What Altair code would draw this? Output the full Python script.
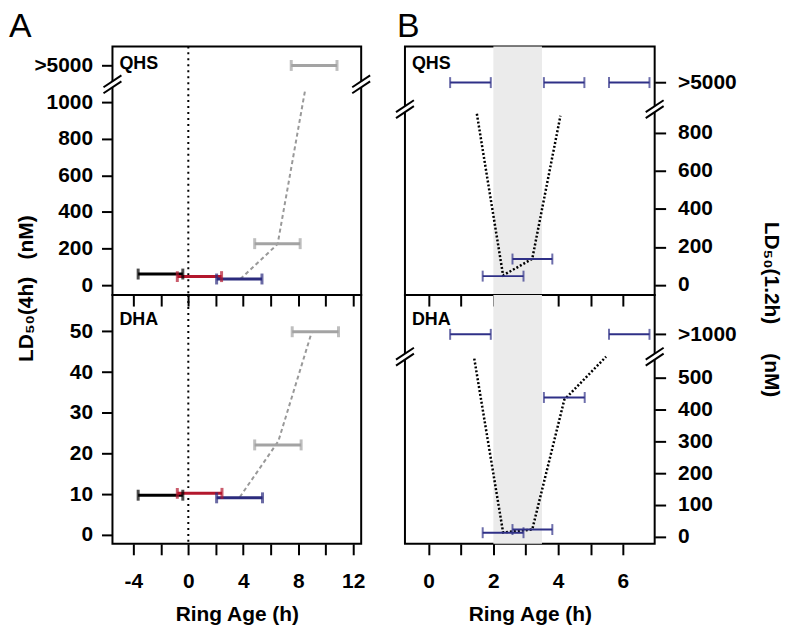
import altair as alt
import pandas as pd

FONT = "Liberation Sans"

# ---------------- data ----------------
# Panel A, QHS  (y in nM; 1200 is the position of the ">5000" row)
a_qhs_lo = [-3.65, -0.80, 2.06, 4.83, 7.49]
a_qhs_hi = [-0.40, 2.42, 5.36, 8.14, 10.82]
a_qhs_y = [61, 47, 34, 227, 1200]
a_qhs_grp = ["k", "r", "n", "g", "g"]
a_qhs_trend_x = [3.79, 6.50, 8.50]
a_qhs_trend_y = [34, 225, 1065]

# Panel A, DHA
a_dha_lo = [-3.65, -0.80, 2.06, 4.83, 7.56]
a_dha_hi = [-0.40, 2.45, 5.40, 8.21, 10.93]
a_dha_y = [9.75, 10.2, 9.1, 22.1, 49.9]
a_dha_grp = ["k", "r", "n", "g", "g"]
a_dha_trend_x = [3.75, 6.55, 9.00]
a_dha_trend_y = [9.3, 23.0, 50.0]

# Panel B, QHS (1065 is the position of the ">5000" row)
b_qhs_lo = [0.665, 3.56, 5.57, 2.59, 1.67]
b_qhs_hi = [1.92, 4.81, 6.82, 3.82, 2.93]
b_qhs_y = [1065, 1065, 1065, 136, 46]
b_qhs_grp = ["b", "b", "b", "b", "b"]
b_qhs_trend_x = [1.49, 2.30, 3.20, 4.07]
b_qhs_trend_y = [901, 50, 137, 890]

# Panel B, DHA (635 is the position of the ">1000" row)
b_dha_lo = [0.665, 5.57, 3.56, 2.59, 1.67]
b_dha_hi = [1.92, 6.82, 4.82, 3.82, 2.93]
b_dha_y = [635, 635, 437, 23, 13]
b_dha_grp = ["b", "b", "b", "b", "b"]
b_dha_trend_x = [1.41, 2.30, 3.20, 4.19, 5.48]
b_dha_trend_y = [559, 14, 23, 430, 565]

b_shade = [2.0, 3.5]

grp_names = ["k", "r", "n", "g", "b"]
grp_colors = ["#000000", "#b3172d", "#2b2b7d", "#a3a3a3", "#2f3087"]

a_xticks = [-4, -2, 0, 2, 4, 6, 8, 10, 12]
b_xticks = [0, 1, 2, 3, 4, 5, 6]
a_qhs_yticks = [0, 200, 400, 600, 800, 1000, 1200]
a_dha_yticks = [0, 10, 20, 30, 40, 50]
b_qhs_yticks = [0, 200, 400, 600, 800, 1065]
b_dha_yticks = [0, 100, 200, 300, 400, 500, 635]

COLOR = alt.Color("grp:N", scale=alt.Scale(domain=grp_names, range=grp_colors), legend=None)


def x_axis(ticks, step, bottom):
    if bottom:
        return alt.Axis(values=ticks, labelExpr=f"datum.value % {step} == 0 ? '' + datum.value : ''",
                        title="Ring Age (h)", labelPadding=16, titlePadding=12,
                        labelFlush=False, labelOverlap=False)
    return alt.Axis(values=ticks, labels=False, title=None)


def panel(lo, hi, y, grp, tx, ty, trend_color, trend_dash, trend_w, xdom, ydom,
          xticks, xstep, bottom, yticks, ylabel_expr, yorient, ytitle, ytitle_xy,
          name, name_y, letter, letter_x, breaks, bar_w, width, height,
          shade=None, zero=False):
    xa = x_axis(xticks, xstep, bottom)
    ya_kwargs = dict(values=yticks, orient=yorient, labelExpr=ylabel_expr,
                     labelOverlap=False,
                     labelPadding=9 if yorient == "left" else 12)
    if ytitle:
        ya_kwargs.update(title=ytitle, titleX=ytitle_xy[0], titleY=ytitle_xy[1],
                         titleAngle=270 if yorient == "left" else 90,
                         titleAlign="center", titleBaseline="alphabetic")
    else:
        ya_kwargs.update(title=None)
    ya = alt.Axis(**ya_kwargs)
    xs = alt.Scale(domain=xdom, nice=False, zero=False)
    ys = alt.Scale(domain=ydom, nice=False, zero=False)

    def X(f):
        return alt.X(f"{f}:Q", scale=xs, axis=xa)

    def Y(f):
        return alt.Y(f"{f}:Q", scale=ys, axis=ya)

    layers = []
    if shade is not None:
        layers.append(alt.Chart(pd.DataFrame({"s0": [shade[0]], "s1": [shade[1]]}))
                      .mark_rect(color="#ebebeb").encode(x=X("s0"), x2="s1"))
    if zero:
        layers.append(alt.Chart(pd.DataFrame({"z": [0]}))
                      .mark_rule(color="black", strokeDash=[2, 4], strokeWidth=2)
                      .encode(x=X("z")))
    layers.append(alt.Chart(pd.DataFrame({"tx": tx, "ty": ty}))
                  .mark_line(color=trend_color, strokeDash=trend_dash, strokeWidth=trend_w)
                  .encode(x=X("tx"), y=Y("ty")))
    df = pd.DataFrame({"lo": lo, "hi": hi, "y": y, "grp": grp})
    layers.append(alt.Chart(df).mark_rule(strokeWidth=bar_w)
                  .encode(x=X("lo"), x2="hi", y=Y("y"), color=COLOR))
    layers.append(alt.Chart(df).transform_fold(["lo", "hi"], as_=["end", "xe"])
                  .mark_tick(orient="vertical", size=11, thickness=bar_w)
                  .encode(x=X("xe"), y=Y("y"), color=COLOR))
    if breaks:
        bdf = pd.DataFrame({"bx": [xdom[0], xdom[1]], "by": [breaks, breaks]})
        layers.append(alt.Chart(bdf).mark_rule(color="white", strokeWidth=5, yOffset=-3, y2Offset=3)
                      .encode(x=X("bx"), y=Y("by"), y2="by"))
        for yo, y2o in [(9, -3), (3, -9)]:
            layers.append(alt.Chart(bdf).mark_rule(color="black", strokeWidth=2, xOffset=-9, x2Offset=9,
                                                   yOffset=yo, y2Offset=y2o)
                          .encode(x=X("bx"), x2="bx", y=Y("by"), y2="by"))
    layers.append(alt.Chart(pd.DataFrame({"t": [name]}))
                  .mark_text(align="left", baseline="alphabetic", font=FONT, fontWeight="bold",
                             fontSize=18, color="black")
                  .encode(x=alt.value(7), y=alt.value(name_y), text="t:N"))
    if letter:
        layers.append(alt.Chart(pd.DataFrame({"t": [letter]}))
                      .mark_text(align="left", baseline="alphabetic", font=FONT, fontSize=34,
                                 color="black")
                      .encode(x=alt.value(letter_x), y=alt.value(-9), text="t:N"))
    return alt.layer(*layers).properties(width=width, height=height)


LD_A = "LD\u2085\u2080(4h)\u00a0\u00a0\u00a0(nM)"
LD_B = "LD\u2085\u2080(1.2h)\u00a0\u00a0\u00a0\u00a0\u00a0(nM)"

a_top = panel(a_qhs_lo, a_qhs_hi, a_qhs_y, a_qhs_grp, a_qhs_trend_x, a_qhs_trend_y,
              "#999999", [4, 3], 2, [-5.52, 12.58], [-54, 1304], a_xticks, 4, False,
              a_qhs_yticks, "datum.value == 1200 ? '>5000' : '' + datum.value", "left",
              LD_A, (-80, 243), "QHS", 23, "A", -104, 1097, 3, 250, 250, zero=True)
a_bot = panel(a_dha_lo, a_dha_hi, a_dha_y, a_dha_grp, a_dha_trend_x, a_dha_trend_y,
              "#999999", [4, 3], 2, [-5.52, 12.58], [-2.2, 58.9], a_xticks, 4, True,
              a_dha_yticks, "'' + datum.value", "left",
              None, None, "DHA", 30, None, 0, None, 3, 250, 250, zero=True)
b_top = panel(b_qhs_lo, b_qhs_hi, b_qhs_y, b_qhs_grp, b_qhs_trend_x, b_qhs_trend_y,
              "black", [2, 2], 2.5, [-0.73, 6.98], [-54, 1255.6], b_xticks, 2, False,
              b_qhs_yticks, "datum.value == 1065 ? '>5000' : '' + datum.value", "right",
              LD_B, (110, 264), "QHS", 23, "B", -8, 925, 2, 251, 250, shade=b_shade)
b_bot = panel(b_dha_lo, b_dha_hi, b_dha_y, b_dha_grp, b_dha_trend_x, b_dha_trend_y,
              "black", [2, 2], 2.5, [-0.73, 6.98], [-21.8, 758], b_xticks, 2, True,
              b_dha_yticks, "datum.value == 635 ? '>1000' : '' + datum.value", "right",
              None, None, "DHA", 30, None, 0, 565, 2, 251, 250, shade=b_shade)

chart = alt.concat(a_top, b_top, a_bot, b_bot, columns=2,
                   spacing={"row": 0, "column": 44}, bounds="flush").resolve_scale(
    x="independent", y="independent", color="shared"
).properties(
    padding={"left": 0, "top": 0, "right": 3, "bottom": 0}
).configure_view(
    stroke="black", strokeWidth=2
).configure_axis(
    labelFont=FONT, titleFont=FONT, labelFontSize=21, labelFontWeight="bold",
    titleFontSize=21, titleFontWeight="bold", labelColor="black", titleColor="black",
    tickColor="black", tickWidth=2, tickSize=11, domain=False, grid=False
)

chart.save("out.html", embed_options={"renderer": "svg", "actions": False})
